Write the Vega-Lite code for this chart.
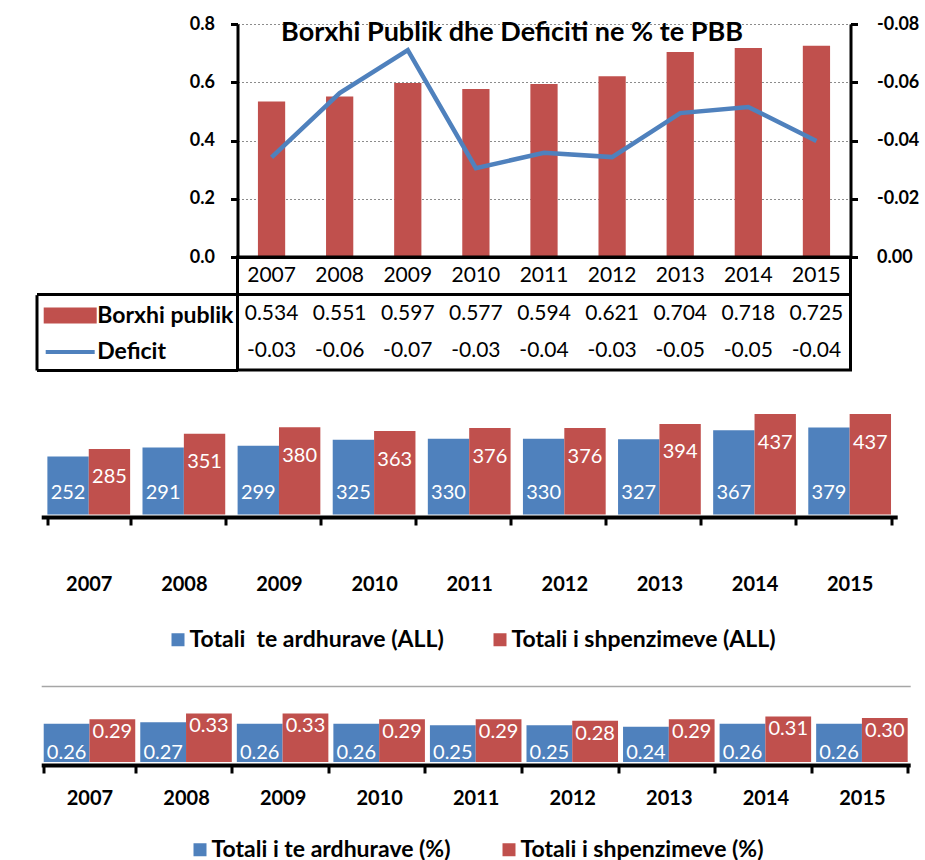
{
  "$schema": "https://vega.github.io/schema/vega-lite/v6.json",
  "background": "white",
  "padding": {"left": 34.5, "top": 15, "right": 0, "bottom": 0},
  "columns": 2,
  "align": "each",
  "bounds": "flush",
  "spacing": 0,
  "resolve": {
    "scale": {"x": "independent", "y": "independent", "color": "independent", "xOffset": "independent"},
    "axis": {"x": "independent", "y": "independent"},
    "legend": {"color": "independent"}
  },
  "config": {
    "view": {"stroke": null},
    "font": "Lato",
    "locale": {"number": {"decimal": ".", "thousands": ",", "grouping": [3], "currency": ["$", ""], "minus": "-"}},
    "axis": {"labelFont": "Lato", "labelColor": "black", "titleFont": "Lato"},
    "legend": {"labelFont": "Lato", "labelColor": "black", "labelLimit": 0}
  },
  "datasets": {
    "top": [
      {"year": "2007", "borxhi": 0.534, "deficit": -0.0342},
      {"year": "2008", "borxhi": 0.551, "deficit": -0.0563},
      {"year": "2009", "borxhi": 0.597, "deficit": -0.071},
      {"year": "2010", "borxhi": 0.577, "deficit": -0.0305},
      {"year": "2011", "borxhi": 0.594, "deficit": -0.0358},
      {"year": "2012", "borxhi": 0.621, "deficit": -0.0343},
      {"year": "2013", "borxhi": 0.704, "deficit": -0.0494},
      {"year": "2014", "borxhi": 0.718, "deficit": -0.0515},
      {"year": "2015", "borxhi": 0.725, "deficit": -0.0398}
    ],
    "rev": [
      {"year": "2007", "series": "Totali\u00a0 te ardhurave (ALL)", "value": 252},
      {"year": "2007", "series": "Totali i shpenzimeve (ALL)", "value": 285},
      {"year": "2008", "series": "Totali\u00a0 te ardhurave (ALL)", "value": 291},
      {"year": "2008", "series": "Totali i shpenzimeve (ALL)", "value": 351},
      {"year": "2009", "series": "Totali\u00a0 te ardhurave (ALL)", "value": 299},
      {"year": "2009", "series": "Totali i shpenzimeve (ALL)", "value": 380},
      {"year": "2010", "series": "Totali\u00a0 te ardhurave (ALL)", "value": 325},
      {"year": "2010", "series": "Totali i shpenzimeve (ALL)", "value": 363},
      {"year": "2011", "series": "Totali\u00a0 te ardhurave (ALL)", "value": 330},
      {"year": "2011", "series": "Totali i shpenzimeve (ALL)", "value": 376},
      {"year": "2012", "series": "Totali\u00a0 te ardhurave (ALL)", "value": 330},
      {"year": "2012", "series": "Totali i shpenzimeve (ALL)", "value": 376},
      {"year": "2013", "series": "Totali\u00a0 te ardhurave (ALL)", "value": 327},
      {"year": "2013", "series": "Totali i shpenzimeve (ALL)", "value": 394},
      {"year": "2014", "series": "Totali\u00a0 te ardhurave (ALL)", "value": 367},
      {"year": "2014", "series": "Totali i shpenzimeve (ALL)", "value": 437},
      {"year": "2015", "series": "Totali\u00a0 te ardhurave (ALL)", "value": 379},
      {"year": "2015", "series": "Totali i shpenzimeve (ALL)", "value": 437}
    ],
    "pct": [
      {"year": "2007", "series": "Totali i te ardhurave (%)", "value": 0.26},
      {"year": "2007", "series": "Totali i shpenzimeve (%)", "value": 0.29},
      {"year": "2008", "series": "Totali i te ardhurave (%)", "value": 0.27},
      {"year": "2008", "series": "Totali i shpenzimeve (%)", "value": 0.33},
      {"year": "2009", "series": "Totali i te ardhurave (%)", "value": 0.26},
      {"year": "2009", "series": "Totali i shpenzimeve (%)", "value": 0.33},
      {"year": "2010", "series": "Totali i te ardhurave (%)", "value": 0.26},
      {"year": "2010", "series": "Totali i shpenzimeve (%)", "value": 0.29},
      {"year": "2011", "series": "Totali i te ardhurave (%)", "value": 0.25},
      {"year": "2011", "series": "Totali i shpenzimeve (%)", "value": 0.29},
      {"year": "2012", "series": "Totali i te ardhurave (%)", "value": 0.25},
      {"year": "2012", "series": "Totali i shpenzimeve (%)", "value": 0.28},
      {"year": "2013", "series": "Totali i te ardhurave (%)", "value": 0.24},
      {"year": "2013", "series": "Totali i shpenzimeve (%)", "value": 0.29},
      {"year": "2014", "series": "Totali i te ardhurave (%)", "value": 0.26},
      {"year": "2014", "series": "Totali i shpenzimeve (%)", "value": 0.31},
      {"year": "2015", "series": "Totali i te ardhurave (%)", "value": 0.26},
      {"year": "2015", "series": "Totali i shpenzimeve (%)", "value": 0.30}
    ]
  },
  "concat": [
    {"width": 201, "height": 233, "data": {"values": []}, "mark": "point"},
    {
      "width": 613, "height": 233,
      "data": {"name": "top"},
      "title": {"text": "Borxhi Publik dhe Deficiti ne % te PBB", "frame": "group", "anchor": "middle", "offset": -17.7, "dy": 35, "baseline": "alphabetic", "dx": -32, "fontSize": 27, "fontWeight": "bold", "color": "black", "font": "Lato"},
      "encoding": {
        "x": {"field": "year", "type": "ordinal", "scale": {"paddingInner": 0.6, "paddingOuter": 0.3},
              "axis": {"title": null, "labels": false, "ticks": false, "domain": true, "domainColor": "black", "domainWidth": 3, "grid": false, "zindex": 2}}
      },
      "layer": [
        {
          "mark": {"type": "bar"},
          "encoding": {
            "y": {"field": "borxhi", "type": "quantitative", "scale": {"domain": [0, 0.8], "nice": false},
                  "axis": {"orient": "left", "values": [0, 0.2, 0.4, 0.6, 0.8], "format": ".1f", "title": null, "grid": true, "gridDash": [2, 2], "gridColor": "#8c8c8c", "gridWidth": 1, "domainColor": "black", "domainWidth": 3, "tickColor": "black", "tickWidth": 3, "tickSize": 7, "labelFontSize": 18, "labelFontWeight": "bold", "labelPadding": 16}},
            "color": {"datum": "Borxhi publik", "type": "nominal",
                      "scale": {"domain": ["Borxhi publik", "Deficit"], "range": ["#c0504d", "#4f81bd"]},
                      "legend": {"orient": "none", "legendX": -185.8, "legendY": 273, "direction": "vertical", "title": null,
                                 "symbolSize": 1067, "symbolStrokeWidth": 4, "labelFontSize": 23, "labelFontWeight": "bold", "labelOffset": 8.5, "rowPadding": 3.5, "padding": 0,
                                 "encode": {"symbols": {"update": {
                                   "shape": {"signal": "datum.value === 'Deficit' ? 'M-1.5,0H1.5' : 'M-1.5,-0.37H1.5V0.37H-1.5Z'"},
                                   "fill": {"signal": "datum.value === 'Deficit' ? 'transparent' : '#c0504d'"},
                                   "stroke": {"signal": "datum.value === 'Deficit' ? '#4f81bd' : 'transparent'"},
                                   "strokeWidth": {"value": 4},
                                   "opacity": {"value": 1}
                                 }}}}}
          }
        },
        {
          "mark": {"type": "line", "strokeWidth": 4.5},
          "encoding": {
            "y": {"field": "deficit", "type": "quantitative", "scale": {"domain": [0, -0.08], "nice": false, "zero": false},
                  "axis": {"orient": "right", "values": [0, -0.02, -0.04, -0.06, -0.08], "format": ".2f", "title": null, "grid": false, "domainColor": "black", "domainWidth": 3, "tickColor": "black", "tickWidth": 3, "tickSize": 7, "labelFontSize": 18, "labelFontWeight": "bold", "labelPadding": 19}},
            "color": {"datum": "Deficit", "type": "nominal"}
          }
        }
      ],
      "resolve": {"scale": {"y": "independent"}}
    },
    {
      "width": 201, "height": 113, "data": {"values": []},
      "mark": "point",
      "encoding": {
        "x": {"datum": 0, "type": "quantitative", "scale": {"domain": [0, 1], "nice": false},
              "axis": {"orient": "bottom", "values": [0], "tickSize": -75.33, "tickWidth": 3, "tickColor": "black", "domain": true, "domainColor": "black", "domainWidth": 3, "labels": false, "title": null, "grid": false}},
        "y": {"datum": "Year", "type": "nominal",
              "scale": {"type": "band", "domain": ["Year", "Borxhi publik", "Deficit"], "paddingInner": 0, "paddingOuter": 0},
              "axis": {"values": ["Borxhi publik"], "bandPosition": 0, "grid": true, "gridColor": "black", "gridWidth": 3, "domain": false, "ticks": false, "labels": false, "title": null}}
      }
    },
    {
      "width": 613, "height": 113,
      "data": {"name": "top"},
      "view": {"stroke": "black", "strokeWidth": 3},
      "encoding": {
        "x": {"field": "year", "type": "ordinal", "scale": {"paddingInner": 0.6, "paddingOuter": 0.3}, "axis": null}
      },
      "layer": [
        {
          "mark": {"type": "text", "fontSize": 21, "color": "black", "baseline": "middle"},
          "encoding": {
            "y": {"datum": "Year", "type": "nominal",
                  "scale": {"type": "band", "domain": ["Year", "Borxhi publik", "Deficit"], "paddingInner": 0, "paddingOuter": 0},
                  "axis": {"values": ["Borxhi publik"], "bandPosition": 0, "grid": true, "gridColor": "black", "gridWidth": 3, "domain": false, "ticks": false, "labels": false, "title": null}},
            "text": {"field": "year", "type": "nominal"}
          }
        },
        {
          "mark": {"type": "text", "fontSize": 21, "color": "black", "baseline": "middle"},
          "encoding": {
            "y": {"datum": "Borxhi publik", "type": "nominal"},
            "text": {"field": "borxhi", "type": "quantitative", "format": ".3f"}
          }
        },
        {
          "mark": {"type": "text", "fontSize": 21, "color": "black", "baseline": "middle"},
          "encoding": {
            "y": {"datum": "Deficit", "type": "nominal"},
            "text": {"field": "deficit", "type": "quantitative", "format": ".2f"}
          }
        }
      ]
    },
    {
      "width": 201, "height": 316,
      "data": {"name": "rev"},
      "encoding": {
        "x": {"field": "year", "type": "ordinal", "scale": {"range": [4.7, 860.7], "paddingInner": 0.13, "paddingOuter": 0.065},
              "axis": {"orient": "bottom", "offset": -169, "tickBand": "extent", "title": null, "labelAngle": 0, "domainColor": "black", "domainWidth": 4, "tickColor": "black", "tickWidth": 3, "tickSize": 8, "labelFontSize": 20, "labelFontWeight": "bold", "labelBaseline": "middle", "labelPadding": 59.5, "zindex": 1}},
        "xOffset": {"field": "series", "type": "nominal", "scale": {"domain": ["Totali\u00a0 te ardhurave (ALL)", "Totali i shpenzimeve (ALL)"], "paddingInner": 0, "paddingOuter": 0}}
      },
      "layer": [
        {
          "mark": {"type": "bar"},
          "encoding": {
            "y": {"field": "value", "type": "quantitative", "stack": null, "scale": {"domain": [-746, 628.6], "nice": false, "zero": false}, "axis": null},
            "y2": {"datum": 0},
            "color": {"field": "series", "type": "nominal",
                      "scale": {"domain": ["Totali\u00a0 te ardhurave (ALL)", "Totali i shpenzimeve (ALL)"], "range": ["#4f81bd", "#c0504d"]},
                      "legend": {"orient": "none", "legendX": 130, "legendY": 258, "direction": "horizontal", "title": null, "symbolType": "square", "symbolSize": 169, "symbolStrokeWidth": 0, "labelFontSize": 23, "labelFontWeight": "bold", "labelOffset": 0, "columnPadding": 44, "padding": 0}}
          }
        },
        {
          "transform": [{"filter": "datum.series === 'Totali i shpenzimeve (ALL)'"}],
          "mark": {"type": "text", "fontSize": 20, "color": "white", "baseline": "middle", "dy": 28.5},
          "encoding": {
            "y": {"field": "value", "type": "quantitative"},
            "text": {"field": "value", "type": "quantitative"}
          }
        },
        {
          "transform": [{"filter": "datum.series !== 'Totali i shpenzimeve (ALL)'"}],
          "mark": {"type": "text", "fontSize": 20, "color": "white", "baseline": "middle", "dy": -21.5},
          "encoding": {
            "y": {"datum": 0, "type": "quantitative"},
            "text": {"field": "value", "type": "quantitative"}
          }
        }
      ]
    },
    {"width": 1, "height": 1, "data": {"values": []}, "mark": "point"},
    {
      "width": 201, "height": 76,
      "data": {"name": "pct"},
      "encoding": {
        "x": {"field": "year", "type": "ordinal", "scale": {"range": [4.7, 873.7], "paddingInner": 0.052, "paddingOuter": 0.026},
              "axis": {"orient": "bottom", "offset": 3, "tickBand": "extent", "title": null, "labelAngle": 0, "domainColor": "black", "domainWidth": 4, "tickColor": "black", "tickWidth": 3, "tickSize": 8, "labelFontSize": 20, "labelFontWeight": "bold", "labelBaseline": "middle", "labelPadding": 25, "zindex": 1}},
        "xOffset": {"field": "series", "type": "nominal", "scale": {"domain": ["Totali i te ardhurave (%)", "Totali i shpenzimeve (%)"], "paddingInner": 0, "paddingOuter": 0}}
      },
      "layer": [
        {
          "mark": {"type": "bar"},
          "encoding": {
            "y": {"field": "value", "type": "quantitative", "stack": null, "scale": {"domain": [0, 0.517], "nice": false},
                  "axis": {"values": [0.517], "grid": true, "gridColor": "#a6a6a6", "gridWidth": 1.5, "domain": false, "ticks": false, "labels": false, "title": null}},
            "y2": {"datum": 0},
            "color": {"field": "series", "type": "nominal",
                      "scale": {"domain": ["Totali i te ardhurave (%)", "Totali i shpenzimeve (%)"], "range": ["#4f81bd", "#c0504d"]},
                      "legend": {"orient": "none", "legendX": 152, "legendY": 152, "direction": "horizontal", "title": null, "symbolType": "square", "symbolSize": 169, "symbolStrokeWidth": 0, "labelFontSize": 23, "labelFontWeight": "bold", "labelOffset": 0, "columnPadding": 46, "padding": 0}}
          }
        },
        {
          "transform": [{"filter": "datum.series === 'Totali i shpenzimeve (%)'"}],
          "mark": {"type": "text", "fontSize": 20, "color": "white", "baseline": "middle", "dy": 13},
          "encoding": {
            "y": {"field": "value", "type": "quantitative"},
            "text": {"field": "value", "type": "quantitative", "format": ".2f"}
          }
        },
        {
          "transform": [{"filter": "datum.series === 'Totali i te ardhurave (%)'"}],
          "mark": {"type": "text", "fontSize": 20, "color": "white", "baseline": "middle", "dy": -9},
          "encoding": {
            "y": {"datum": 0, "type": "quantitative"},
            "text": {"field": "value", "type": "quantitative", "format": ".2f"}
          }
        }
      ]
    },
    {"width": 1, "height": 1, "data": {"values": []}, "mark": "point"}
  ]
}
